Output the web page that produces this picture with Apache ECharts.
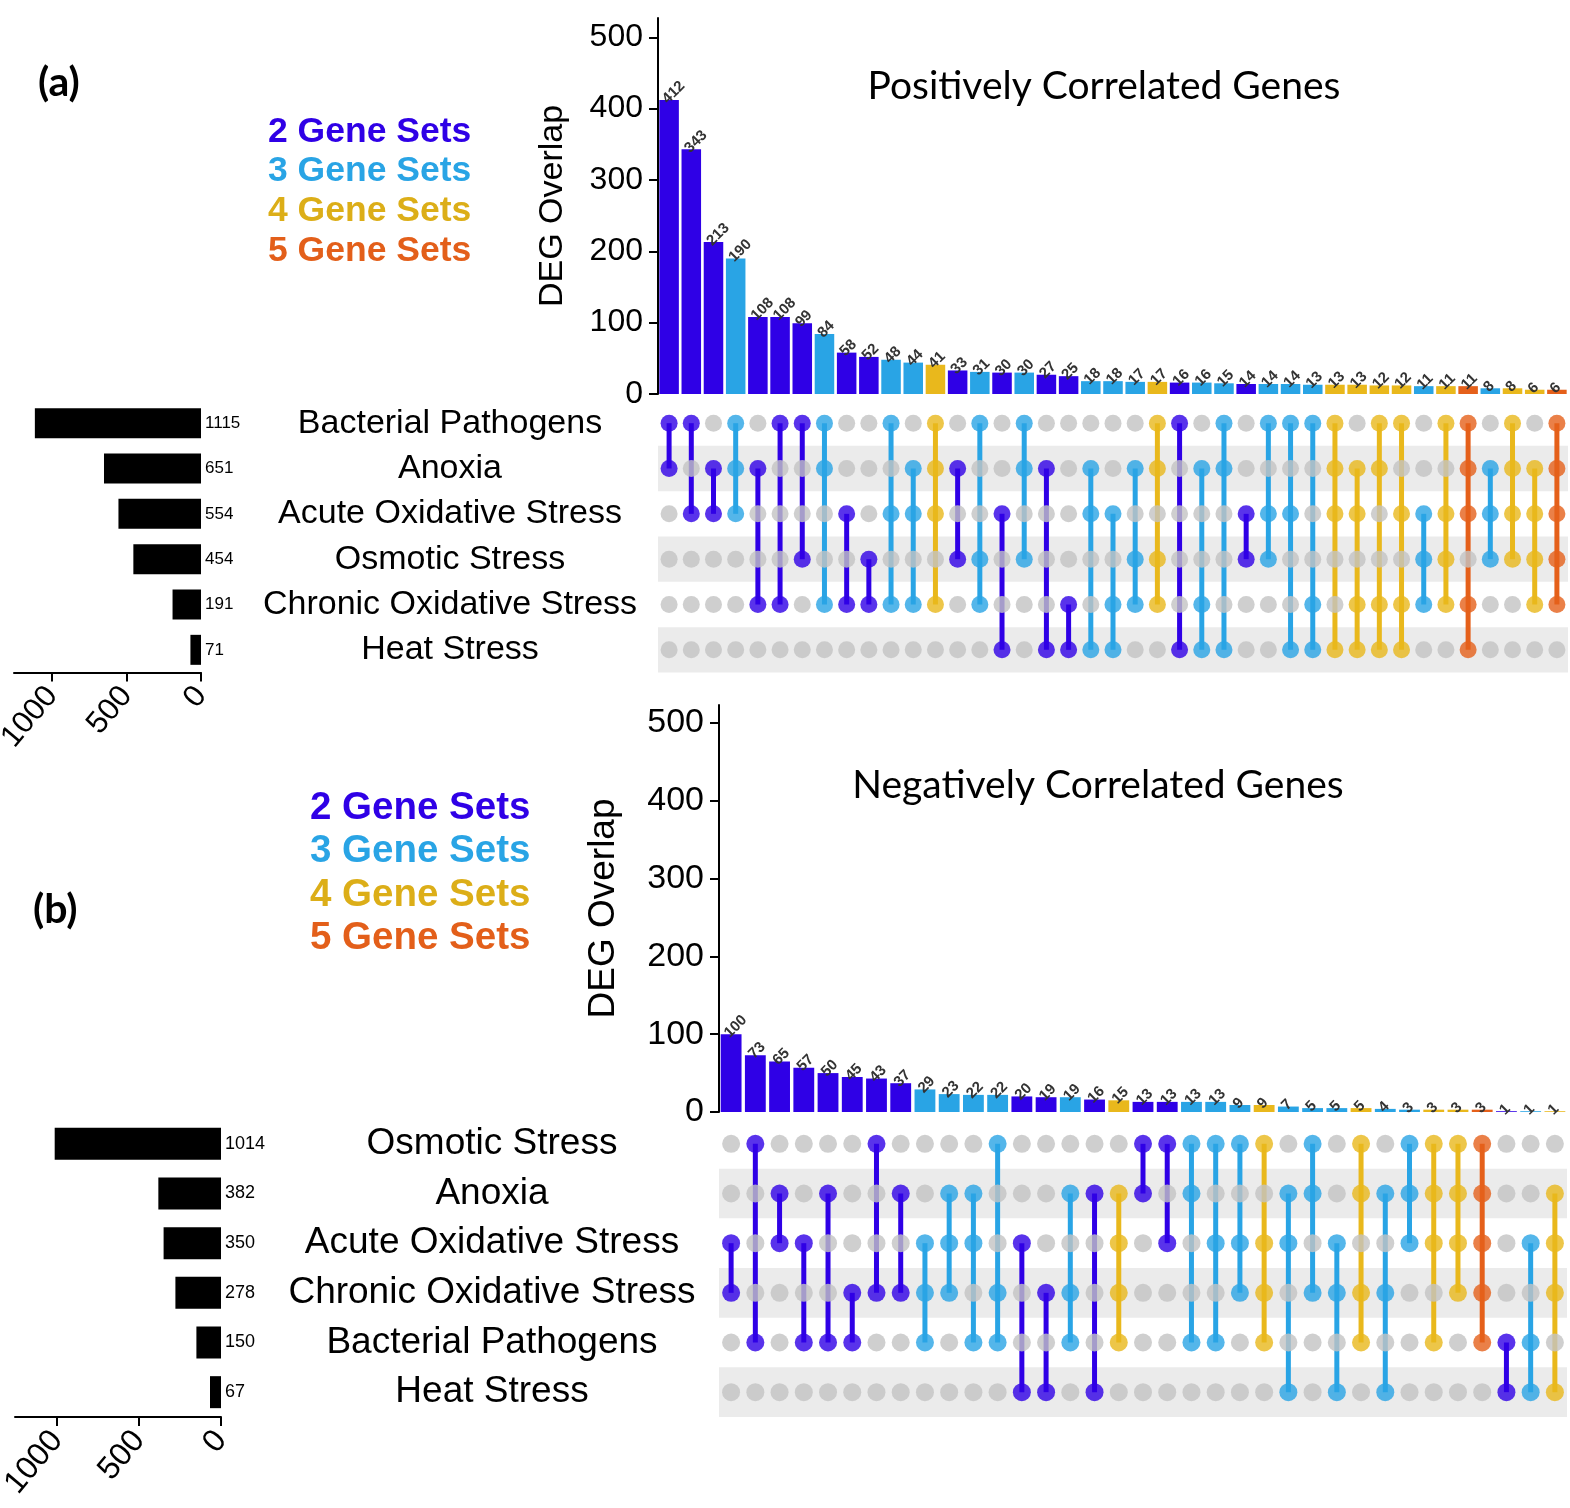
<!DOCTYPE html>
<html>
<head>
<meta charset="utf-8">
<script src="https://cdn.jsdelivr.net/npm/echarts@6/dist/echarts.min.js"></script>
<style>
html,body{margin:0;padding:0;background:#fff;}
#chart{width:1570px;height:1508px;}
</style>
</head>
<body>
<div id="chart"></div>
<script>
// ---------- Panel (a): Positively Correlated Genes ----------
const setsA = ['Bacterial Pathogens', 'Anoxia', 'Acute Oxidative Stress', 'Osmotic Stress', 'Chronic Oxidative Stress', 'Heat Stress'];
const sizesA = [1115, 651, 554, 454, 191, 71];
const countsA = [412, 343, 213, 190, 108, 108, 99, 84, 58, 52, 48, 44, 41, 33, 31, 30, 30, 27, 25, 18, 18, 17, 17, 16, 16, 15, 14, 14, 14, 13, 13, 13, 12, 12, 11, 11, 11, 8, 8, 6, 6];
const membersA = [
  [0,1],[0,2],[1,2],[0,1,2],[1,4],[0,4],[0,3],[0,1,4],[2,4],[3,4],
  [0,2,4],[1,2,4],[0,1,2,4],[1,3],[0,3,4],[2,5],[0,1,3],[1,5],[4,5],[1,2,5],
  [2,4,5],[1,3,4],[0,1,3,4],[0,5],[1,4,5],[0,1,5],[2,3],[0,2,3],[0,2,5],[0,4,5],
  [0,1,2,5],[1,2,4,5],[0,1,4,5],[0,2,4,5],[2,3,4],[0,2,3,4],[0,1,2,4,5],[1,2,3],[0,1,2,3],[1,2,3,4],
  [0,1,2,3,4]
];

// ---------- Panel (b): Negatively Correlated Genes ----------
const setsB = ['Osmotic Stress', 'Anoxia', 'Acute Oxidative Stress', 'Chronic Oxidative Stress', 'Bacterial Pathogens', 'Heat Stress'];
const sizesB = [1014, 382, 350, 278, 150, 67];
const countsB = [100, 73, 65, 57, 50, 45, 43, 37, 29, 23, 22, 22, 20, 19, 19, 16, 15, 13, 13, 13, 13, 9, 9, 7, 5, 5, 5, 4, 3, 3, 3, 3, 1, 1, 1];
const membersB = [
  [2,3],[0,4],[1,2],[2,4],[1,4],[3,4],[0,3],[1,3],[2,3,4],[1,2,3],
  [1,2,4],[0,3,4],[2,5],[3,5],[1,3,4],[1,5],[1,2,3,4],[0,1],[0,2],[0,1,4],
  [0,2,4],[0,2,3],[0,2,3,4],[1,2,5],[0,1,3],[2,3,5],[0,1,3,4],[1,3,5],[0,1,2],[0,1,2,4],
  [0,1,2,3],[0,1,2,3,4],[4,5],[2,4,5],[1,2,3,5]
];

// ---------- Tick labels ----------
const overlapTicks = [0, 100, 200, 300, 400, 500];
const sizeTicks = [0, 500, 1000];
const legendLabels = ['2 Gene Sets', '3 Gene Sets', '4 Gene Sets', '5 Gene Sets'];
const legendDegrees = [2, 3, 4, 5];

const COLORS = {2: '#2f00e6', 3: '#29a4e5', 4: '#e9b81c', 5: '#e5601a'};
const GRAY_DOT = '#c3c3c3';
const STRIPE = '#ebebeb';

const chart = echarts.init(document.getElementById('chart'), null, {renderer: 'canvas'});

const grid = [], xAxis = [], yAxis = [], series = [];

function addPanel(L) {
  const g0 = grid.length;
  const cols = L.counts.map((_, i) => 'c' + (i + 1));
  grid.push({left: L.mx, width: L.mw, top: L.barTop, height: L.barH, outerBoundsMode: 'none', containLabel: false});
  grid.push({left: L.mx, width: L.mw, top: L.matTop, height: L.matH, outerBoundsMode: 'none', containLabel: false});
  grid.push({left: L.sx, width: L.sw, top: L.matTop, height: L.matH, outerBoundsMode: 'none', containLabel: false});

  xAxis.push({type: 'category', gridIndex: g0, data: cols, show: false, boundaryGap: true});
  yAxis.push({
    type: 'value', gridIndex: g0, min: 0, max: L.yMax,
    axisLine: {show: true, lineStyle: {color: '#000', width: 2}},
    axisTick: {show: true, length: 9, lineStyle: {color: '#000', width: 2}, customValues: overlapTicks},
    axisLabel: {color: '#000', fontSize: L.tickFont, fontFamily: 'Liberation Sans', margin: 15, customValues: overlapTicks},
    splitLine: {show: false},
    name: 'DEG Overlap', nameLocation: 'middle', nameGap: L.nameGap, nameRotate: 90,
    nameTextStyle: {color: '#000', fontSize: L.nameFont, fontFamily: 'Liberation Sans'}
  });

  xAxis.push({type: 'category', gridIndex: g0 + 1, data: cols, show: false, boundaryGap: true});
  yAxis.push({
    type: 'category', gridIndex: g0 + 1, data: L.sets, inverse: true,
    axisLine: {show: false}, axisTick: {show: false, interval: 0},
    axisLabel: {interval: 0, color: '#000', fontSize: L.setFont, fontFamily: 'Liberation Sans', margin: L.setMargin, align: 'center'},
    splitArea: {show: true, interval: 0, areaStyle: {color: ['rgba(255,255,255,0)', STRIPE]}}
  });

  xAxis.push({
    type: 'value', gridIndex: g0 + 2, inverse: true, min: 0, max: L.sMax,
    axisLine: {show: true, lineStyle: {color: '#000', width: 2}},
    axisTick: {show: true, length: 9, lineStyle: {color: '#000', width: 2}, customValues: sizeTicks},
    axisLabel: {color: '#000', fontSize: L.sTickFont, fontFamily: 'Liberation Sans', rotate: 50, margin: 18,
      customValues: sizeTicks, formatter: v => String(v)},
    splitLine: {show: false}
  });
  yAxis.push({type: 'category', gridIndex: g0 + 2, data: L.sets, inverse: true, show: false});

  series.push({
    type: 'bar', xAxisIndex: g0, yAxisIndex: g0, barCategoryGap: L.gap,
    data: L.counts.map((v, i) => ({value: v, itemStyle: {color: COLORS[L.members[i].length]}})),
    label: {show: true, position: 'top', distance: 3, rotate: 45, align: 'left', verticalAlign: 'middle',
      offset: [-6, 0], fontSize: 15, fontWeight: 'bold', color: '#333', fontFamily: 'Liberation Sans'},
    animation: false
  });

  const grayPts = [];
  L.counts.forEach((_, c) => {
    for (let r = 0; r < L.sets.length; r++) {
      if (L.members[c].indexOf(r) < 0) grayPts.push([c, r]);
    }
  });
  series.push({
    type: 'scatter', xAxisIndex: g0 + 1, yAxisIndex: g0 + 1, symbolSize: L.dot,
    itemStyle: {color: GRAY_DOT}, data: grayPts, animation: false, silent: true
  });

  series.push({
    type: 'custom', xAxisIndex: g0 + 1, yAxisIndex: g0 + 1, animation: false, silent: true,
    data: L.members.map((m, c) => [c, Math.min(...m), Math.max(...m), m.length]),
    encode: {x: 0, y: [1, 2]},
    renderItem: function (params, api) {
      const c = api.value(0);
      const p1 = api.coord([c, api.value(1)]);
      const p2 = api.coord([c, api.value(2)]);
      return {type: 'line', shape: {x1: p1[0], y1: p1[1], x2: p2[0], y2: p2[1]},
        style: {stroke: COLORS[api.value(3)], lineWidth: L.lineW}};
    }
  });

  const colPts = [];
  L.members.forEach((m, c) => m.forEach(r => colPts.push({value: [c, r], itemStyle: {color: COLORS[m.length]}})));
  series.push({
    type: 'scatter', xAxisIndex: g0 + 1, yAxisIndex: g0 + 1, symbolSize: L.dot,
    data: colPts, animation: false, silent: true, z: 3
  });

  series.push({
    type: 'bar', xAxisIndex: g0 + 2, yAxisIndex: g0 + 2, barWidth: L.sBarW,
    itemStyle: {color: '#000'}, data: L.sizes, animation: false,
    label: {show: true, position: 'right', distance: 4, color: '#000', fontSize: L.sLabFont,
      fontFamily: 'Liberation Sans Narrow, Liberation Sans'}
  });
}

addPanel({
  sets: setsA, sizes: sizesA, counts: countsA, members: membersA,
  mx: 658, mw: 910, barTop: 18, barH: 376, yMax: 527,
  matTop: 400.5, matH: 272, sx: 14, sw: 187, sMax: 1255,
  tickFont: 32, nameFont: 34, nameGap: 88, setFont: 34, setMargin: 208,
  sTickFont: 31, sBarW: 30, sLabFont: 17, gap: '12%', dot: 17, lineW: 5
});
addPanel({
  sets: setsB, sizes: sizesB, counts: countsB, members: membersB,
  mx: 719, mw: 848, barTop: 705, barH: 407, yMax: 523,
  matTop: 1119, matH: 298, sx: 15, sw: 206, sMax: 1256,
  tickFont: 34, nameFont: 37, nameGap: 97, setFont: 37, setMargin: 227,
  sTickFont: 32, sBarW: 32, sLabFont: 18, gap: '14%', dot: 18, lineW: 5
});

const graphic = [];
function addText(x, y, text, font, color, align) {
  graphic.push({type: 'text', x: x, y: y, silent: true,
    style: {text: text, font: font, fill: color, textAlign: align || 'left', textVerticalAlign: 'middle'}});
}
addText(38, 83, '(a)', 'bold 41px Lato', '#000');
addText(33, 910, '(b)', 'bold 41px Lato', '#000');
addText(1104, 86, 'Positively Correlated Genes', '39px Lato', '#000', 'center');
addText(1098, 785, 'Negatively Correlated Genes', '39px Lato', '#000', 'center');
const legendColors = {2: '#2f00e6', 3: '#29a4e5', 4: '#dcae18', 5: '#e35f1a'};
legendLabels.forEach((t, i) => {
  addText(268, 132 + i * 39.7, t, 'bold 35.5px Liberation Sans', legendColors[legendDegrees[i]]);
  addText(310, 808 + i * 43.5, t, 'bold 38.5px Liberation Sans', legendColors[legendDegrees[i]]);
});

chart.setOption({
  backgroundColor: '#fff',
  animation: false,
  grid: grid, xAxis: xAxis, yAxis: yAxis, series: series, graphic: graphic
});
</script>
</body>
</html>
